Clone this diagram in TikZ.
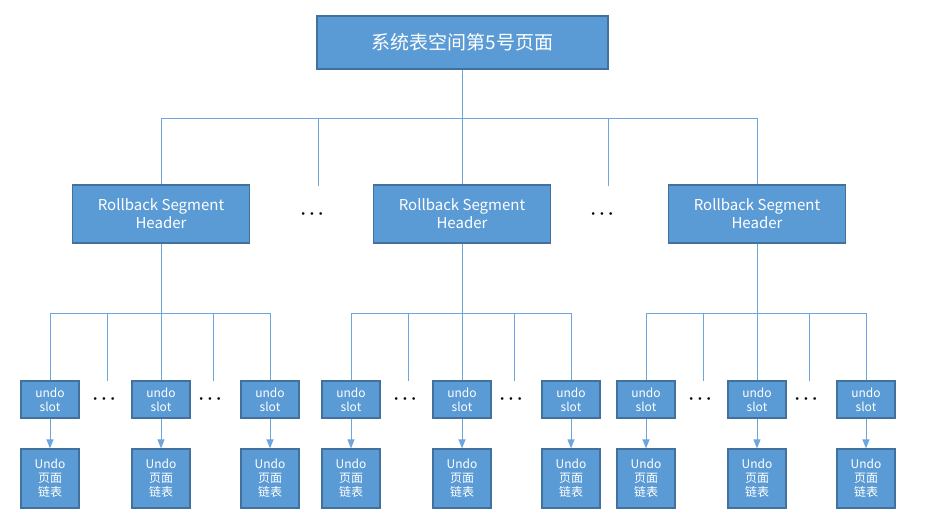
\documentclass[tikz,border=0pt]{standalone}
\usepackage{fontspec}
\setmainfont{Noto Sans CJK SC}
\usetikzlibrary{arrows.meta}
\definecolor{boxfill}{HTML}{5B9BD5}
\definecolor{boxline}{HTML}{41719C}
\definecolor{wirecol}{HTML}{6EA6DC}
\newcommand{\threedots}{$\bullet$\hspace{5pt}$\bullet$\hspace{5pt}$\bullet$}
\tikzset{
  blk/.style={draw=boxline, line width=1.2pt, fill=boxfill, text=white, inner sep=0pt, align=center},
  seg/.style={blk, minimum width=177pt, minimum height=58pt, font=\fontsize{15}{18}\selectfont},
  slot/.style={blk, minimum width=58pt, minimum height=37pt, font=\fontsize{12}{14}\selectfont},
  pagelist/.style={blk, minimum width=58pt, minimum height=59pt, font=\fontsize{12}{14}\selectfont},
  wire/.style={draw=wirecol, line width=0.9pt},
  dots/.style={inner sep=0pt, font=\fontsize{6.5}{7}\selectfont}
}
\begin{document}
\begin{tikzpicture}[x=1pt, y=-1pt, >={Triangle[width=7pt,length=9pt]}]
    \useasboundingbox (0,0) rectangle (938,527);

    \node[blk, minimum width=291pt, minimum height=53pt, font=\fontsize{19}{22}\selectfont] (top) at (462.5,42.5) {系统表空间第5号页面};
    \coordinate (busl) at (161,118);
    \coordinate (busr) at (757,118);
    \draw[wire] (top.south) -- (top.south |- busl);
    \draw[wire] (busl) -- (busr);

    \foreach \k/\x in {1/318, 2/608} {
        \coordinate (stub\k) at (\x,186);
        \draw[wire] (stub\k) -- (stub\k |- busl);
        \node[dots] (dots\k) at (\x-6,214) {\threedots};
    }

    \foreach \g/\c in {1/161, 2/462, 3/757} {
        \node[seg] (rs\g) at (\c,214) {Rollback Segment\\Header};
        \draw[wire] (rs\g.north) -- (rs\g.north |- busl);
        \coordinate (sl\g) at (\c-111,313);
        \coordinate (sr\g) at (\c+109,313);
        \draw[wire] (rs\g.south) -- (rs\g.south |- sl\g);
        \draw[wire] (sl\g) -- (sr\g);
        \foreach \k/\dx in {1/-111, 2/0, 3/109} {
            \node[slot] (slot\g\k) at (\c+\dx,399.5) {undo\\slot};
            \node[pagelist] (list\g\k) at (\c+\dx,478.5) {Undo\\页面\\链表};
            \draw[wire] (slot\g\k.north) -- (slot\g\k.north |- sl\g);
            \draw[wire, ->, fill=wirecol] (slot\g\k) -- (list\g\k);
        }
        \foreach \k/\dx in {1/-54, 2/52} {
            \coordinate (tick\g\k) at (\c+\dx,381);
            \draw[wire] (tick\g\k) -- (tick\g\k |- sl\g);
            \node[dots] (gap\g\k) at (\c+\dx-3,399.5) {\threedots};
        }
    }
\end{tikzpicture}
\end{document}
